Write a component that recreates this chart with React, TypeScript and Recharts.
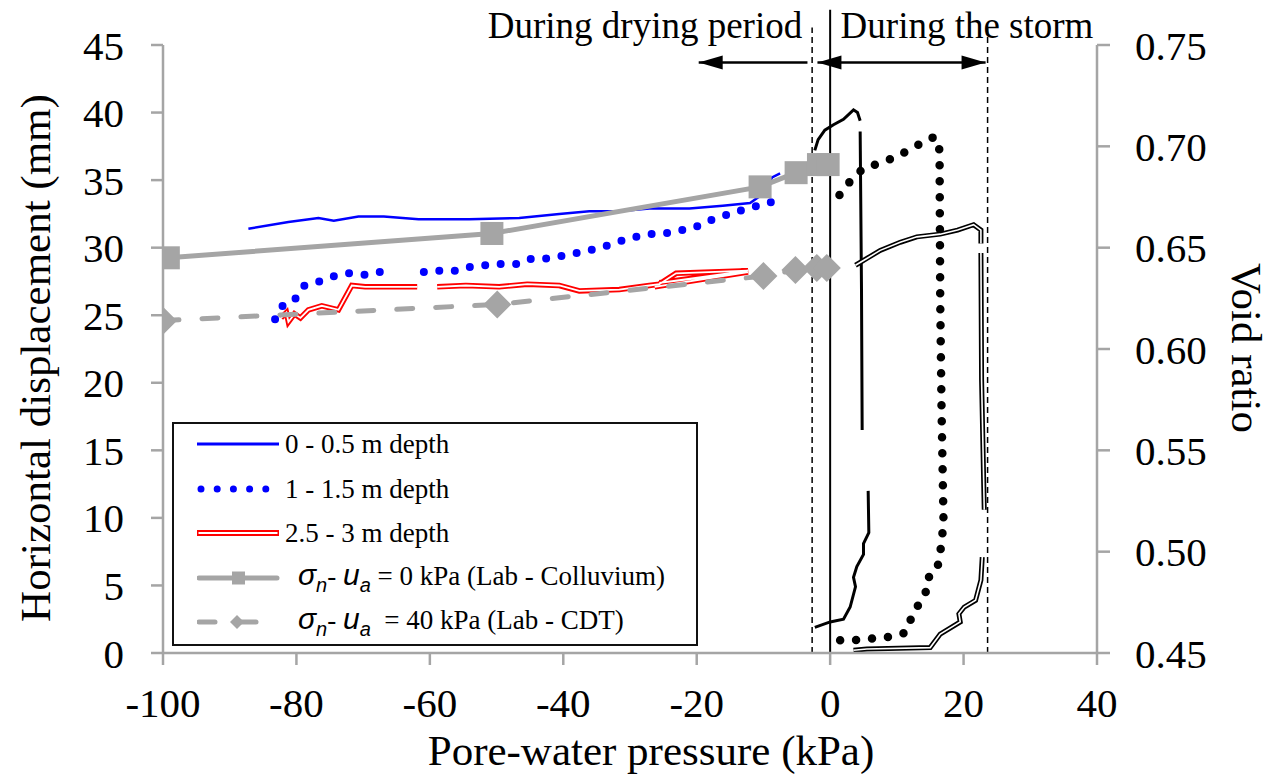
import React from "react";
import { ComposedChart, Line, XAxis, YAxis, ReferenceLine } from "recharts";

// ─── Colours / fonts ───────────────────────────────────────────────────────
const GRAY = "#a5a5a5";
const BLUE = "#0000ff";
const RED = "#ff0000";
const SERIF = "'Liberation Serif', 'Times New Roman', serif";

// ─── Data: [pore-water pressure kPa, horizontal displacement mm] ───────────
// null in y = break in the line
const blueSolid: [number, number | null][] = [
  [-87.2, 31.4], [-81.2, 31.9], [-76.7, 32.2], [-74.4, 32.0], [-70.7, 32.3],
  [-66.9, 32.3], [-61.7, 32.1], [-54.1, 32.1], [-46.6, 32.2], [-40.6, 32.5],
  [-36.1, 32.7], [-31.6, 32.7], [-27.1, 32.9], [-21.1, 32.9], [-16.1, 33.1],
  [-12.0, 33.3], [-10.0, 34.0], [-9.0, 34.9], [-8.7, 35.2], [-7.5, 35.5],
];

const blueDotted: [number, number | null][] = [
  [-83.2, 24.7], [-82.9, 25.2], [-81.7, 25.9], [-80.2, 26.2], [-78.8, 27.2],
  [-76.6, 27.5], [-74.3, 27.9], [-72.1, 28.1], [-69.7, 28.0], [-67.4, 28.2],
  [-64.0, null],
  [-60.9, 28.2], [-58.5, 28.3], [-56.1, 28.3], [-53.8, 28.6], [-51.6, 28.7],
  [-49.2, 28.8], [-46.8, 28.8], [-44.7, 29.2], [-42.3, 29.2], [-40.0, 29.4],
  [-38.0, 29.6], [-36.1, 29.8], [-33.1, 30.2], [-30.1, 30.7], [-27.1, 31.0],
  [-24.1, 31.1], [-20.3, 31.5], [-17.6, 32.1], [-13.1, 32.8], [-8.6, 33.4],
];

const redDouble: [number, number | null][] = [
  [-82.3, 24.8], [-81.5, 25.2], [-81.2, 24.5], [-80.3, 25.1], [-79.4, 24.8],
  [-78.2, 25.4], [-76.2, 25.7], [-73.7, 25.4], [-71.7, 27.2], [-69.7, 27.1],
  [-67.2, 27.1], [-61.9, 27.1],
  [-60.0, null],
  [-58.9, 27.1], [-54.6, 27.2], [-49.6, 27.1], [-45.4, 27.3], [-40.6, 27.2],
  [-37.6, 26.8], [-31.6, 26.9], [-27.1, 27.2], [-25.6, 27.3], [-23.1, 28.1],
  [-12.3, 28.3], [-25.6, 27.4], [-12.3, 28.2], [-26.3, 27.1],
];

// during the storm (black)
const blackSolid: [number, number | null][] = [
  [-2.3, 37.2], [-1.8, 38.0], [-0.8, 38.7], [0.5, 39.1], [2.0, 39.5],
  [3.5, 40.2], [4.1, 40.0], [4.5, 39.4],
  [4.5, null],
  [4.5, 38.6], [4.7, 26.9], [4.8, 16.5],
  [5.2, null],
  [5.7, 12.0], [5.8, 8.9], [5.0, 8.1], [5.0, 7.3], [4.0, 6.4], [3.5, 5.6],
  [3.8, 4.9], [3.0, 3.4], [2.0, 2.5], [0.0, 2.3], [-2.3, 1.9],
];

const blackDotted: [number, number | null][] = [
  [1.4, 33.9], [2.5, 34.6], [3.8, 35.4], [5.5, 36.0], [7.2, 36.2],
  [9.8, 36.7], [12.8, 37.5], [15.0, 38.1], [15.8, 38.2], [16.4, 37.2],
  [16.5, 26.1], [16.7, 18.0], [17.0, 9.6], [16.5, 7.4], [16.0, 6.1],
  [14.5, 5.5], [14.3, 4.4], [12.5, 3.0], [11.3, 1.5], [9.0, 1.2],
  [6.8, 1.1], [4.8, 1.0], [2.3, 0.9], [0.5, 1.0], [-0.3, 0.9],
];

const blackDouble: [number, number | null][] = [
  [3.8, 28.7], [5.5, 29.2], [7.5, 29.8], [10.5, 30.4], [13.0, 30.8],
  [16.5, 31.0], [19.1, 31.3], [21.5, 31.7], [22.6, 31.3], [22.6, 30.3],
  [22.6, null],
  [22.6, 29.6], [22.7, 20.2], [23.1, 10.6],
  [23.0, null],
  [22.8, 7.1], [22.6, 5.4], [21.8, 3.9], [20.1, 3.4], [19.3, 2.9],
  [19.5, 2.3], [16.5, 1.4], [15.0, 0.4], [5.5, 0.3], [3.5, 0.2],
];

// lab tests: [pore-water pressure kPa, void ratio]
const labColluviumX = [-99.2, -50.7, -10.5, -5.1, -1.75, -0.3];
const labColluviumE = [0.645, 0.657, 0.68, 0.687, 0.691, 0.691];
const labCdtX = [-100, -49.9, -10, -5.2, -2, -0.5];
const labCdtE = [0.614, 0.622, 0.636, 0.639, 0.64, 0.64];

const xTicks = [-100, -80, -60, -40, -20, 0, 20, 40];
const yTicks = [0, 5, 10, 15, 20, 25, 30, 35, 40, 45];
const eTicks = [0.45, 0.5, 0.55, 0.6, 0.65, 0.7, 0.75];

const drySplit = -2.7;
const stormEnd = 23.6;

const toPts = (a: [number, number | null][]) => a.map(([x, y]) => ({ x, y }));
const labPts = (xs: number[], es: number[]) => xs.map((x, i) => ({ x, y: es[i] }));

// ─── Markers / shapes ───────────────────────────────────────────────────────
const SquareDot = (p: any) =>
  p.cx == null ? (
    <g key={`sq${p.index}`} />
  ) : (
    <rect key={`sq${p.index}`} x={p.cx - 11.5} y={p.cy - 11.5} width={23} height={23} fill={GRAY} />
  );

const DiamondDot = (p: any) =>
  p.cx == null ? (
    <g key={`dm${p.index}`} />
  ) : (
    <polygon
      key={`dm${p.index}`}
      points={`${p.cx - 14},${p.cy} ${p.cx},${p.cy - 14} ${p.cx + 14},${p.cy} ${p.cx},${p.cy + 14}`}
      fill={GRAY}
    />
  );

function arrowShape(both: boolean) {
  return (p: any) => {
    const { x1, y1, x2, y2 } = p;
    const d = Math.sign(x2 - x1) || 1;
    const L = 24;
    const H = 7;
    const head = (tx: number, ty: number, dir: number) =>
      `${tx},${ty} ${tx - dir * L},${ty - H} ${tx - dir * L},${ty + H}`;
    return (
      <g>
        <line x1={x1} y1={y1} x2={x2} y2={y2} stroke="#000" strokeWidth={2.5} />
        <polygon points={head(x2, y2, d)} fill="#000" />
        {both && <polygon points={head(x1, y1, -d)} fill="#000" />}
      </g>
    );
  };
}

const tickStyle = { fontSize: 41, fill: "#000", fontFamily: SERIF };

// ─── Legend (HTML overlay) ──────────────────────────────────────────────────
function LegendBox() {
  const rowH = 44.5;
  const sym = (i: number) => {
    const y = 10;
    switch (i) {
      case 0:
        return <line x1={0} y1={y} x2={82} y2={y} stroke={BLUE} strokeWidth={3} />;
      case 1:
        return (
          <line x1={4} y1={y} x2={82} y2={y} stroke={BLUE} strokeWidth={7}
            strokeLinecap="round" strokeDasharray="0 16.2" />
        );
      case 2:
        return (
          <g>
            <line x1={0} y1={y} x2={82} y2={y} stroke={RED} strokeWidth={6} />
            <line x1={1.5} y1={y} x2={80.5} y2={y} stroke="#fff" strokeWidth={2} />
          </g>
        );
      case 3:
        return (
          <g>
            <line x1={2} y1={y} x2={80} y2={y} stroke={GRAY} strokeWidth={5} strokeLinecap="round" />
            <rect x={35} y={y - 6.5} width={13} height={13} fill={GRAY} />
          </g>
        );
      default:
        return (
          <g>
            <line x1={2} y1={y} x2={80} y2={y} stroke={GRAY} strokeWidth={5}
              strokeLinecap="round" strokeDasharray="16 25" />
            <polygon points={`${33},${y} ${40},${y - 7} ${47},${y} ${40},${y + 7}`} fill={GRAY} />
          </g>
        );
    }
  };
  const ital: React.CSSProperties = {
    fontFamily: "'Liberation Sans', Arial, sans-serif",
    fontStyle: "italic",
    fontSize: 30,
  };
  const sigma = (gap: string) => (
    <span>
      <span style={ital}>
        σ<sub style={{ fontSize: 20 }}>n</sub>
      </span>
      -{" "}
      <span style={ital}>
        u<sub style={{ fontSize: 20 }}>a</sub>
      </span>
      {gap}
    </span>
  );
  const labels: React.ReactNode[] = [
    "0 - 0.5 m depth",
    "1 - 1.5 m depth",
    "2.5 - 3 m depth",
    <span key="l4">{sigma(" ")}= 0 kPa (Lab - Colluvium)</span>,
    <span key="l5">{sigma("\u00a0 ")}= 40 kPa (Lab - CDT)</span>,
  ];
  return (
    <div
      style={{
        position: "absolute",
        left: 172,
        top: 422,
        width: 522,
        height: 220,
        border: "2px solid #111",
        background: "#fff",
        fontFamily: SERIF,
        fontSize: 27,
        color: "#000",
      }}
    >
      {labels.map((lab, i) => (
        <div key={i} style={{ position: "absolute", left: 0, top: 20 + i * rowH - 16, height: 32, width: 520 }}>
          <svg width={90} height={20} style={{ position: "absolute", left: 23, top: 6 }}>
            {sym(i)}
          </svg>
          <div
            style={{
              position: "absolute",
              left: i < 3 ? 111 : 124,
              top: i < 3 ? 0 : -3,
              height: 32,
              lineHeight: "32px",
              whiteSpace: "nowrap",
            }}
          >
            {lab}
          </div>
        </div>
      ))}
    </div>
  );
}

const textAbs = (cx: number, cy: number, size: number, rot = 0): React.CSSProperties => ({
  position: "absolute",
  left: cx,
  top: cy,
  transform: `translate(-50%, -50%) rotate(${rot}deg)`,
  fontFamily: SERIF,
  fontSize: size,
  lineHeight: 1,
  whiteSpace: "nowrap",
  color: "#000",
});

export default function App() {
  return (
    <div style={{ position: "absolute", left: 0, top: 0, width: 1271, height: 776, background: "#fff" }}>
      <ComposedChart width={1271} height={776} margin={{ top: 45, right: 0, bottom: 0, left: 0 }}>
        <XAxis
          dataKey="x"
          type="number"
          domain={[-100, 40]}
          ticks={xTicks}
          allowDataOverflow
          tick={tickStyle}
          tickSize={12}
          tickMargin={23}
          height={123}
          axisLine={{ stroke: GRAY, strokeWidth: 2.5 }}
          tickLine={{ stroke: GRAY, strokeWidth: 2.5 }}
        />
        <YAxis
          yAxisId="left"
          orientation="left"
          type="number"
          domain={[0, 45]}
          ticks={yTicks}
          width={163}
          tick={tickStyle}
          tickSize={12}
          tickMargin={27}
          axisLine={{ stroke: GRAY, strokeWidth: 2.5 }}
          tickLine={{ stroke: GRAY, strokeWidth: 2.5 }}
        />
        <YAxis
          yAxisId="right"
          orientation="right"
          type="number"
          domain={[0.45, 0.75]}
          ticks={eTicks}
          width={174}
          tick={tickStyle}
          tickSize={13}
          tickMargin={25}
          tickFormatter={(v: number) => v.toFixed(2)}
          axisLine={{ stroke: GRAY, strokeWidth: 2.5 }}
          tickLine={{ stroke: GRAY, strokeWidth: 2.5 }}
        />

        {/* period markers */}
        <ReferenceLine yAxisId="left" ifOverflow="visible" stroke="#000" strokeWidth={2}
          segment={[{ x: 0, y: 0 }, { x: 0, y: 47.6 }]} />
        <ReferenceLine yAxisId="left" ifOverflow="visible" stroke="#000" strokeWidth={1.5} strokeDasharray="6 4"
          segment={[{ x: drySplit, y: 0 }, { x: drySplit, y: 46.3 }]} />
        <ReferenceLine yAxisId="left" ifOverflow="visible" stroke="#000" strokeWidth={1.5} strokeDasharray="6 4"
          segment={[{ x: stormEnd, y: 0 }, { x: stormEnd, y: 46.3 }]} />
        <ReferenceLine yAxisId="left" ifOverflow="visible" shape={arrowShape(false)}
          segment={[{ x: -3.4, y: 43.7 }, { x: -19.7, y: 43.7 }]} />
        <ReferenceLine yAxisId="left" ifOverflow="visible" shape={arrowShape(true)}
          segment={[{ x: -1.9, y: 43.7 }, { x: 23.3, y: 43.7 }]} />

        {/* field data */}
        <Line yAxisId="left" data={toPts(blueSolid)} dataKey="y" stroke={BLUE} strokeWidth={2.5}
          dot={false} isAnimationActive={false} legendType="none" />
        <Line yAxisId="left" data={toPts(blueDotted)} dataKey="y" stroke={BLUE} strokeWidth={8}
          strokeLinecap="round" strokeDasharray="0 15.5" dot={false} isAnimationActive={false} legendType="none" />
        <Line yAxisId="left" data={toPts(redDouble)} dataKey="y" stroke={RED} strokeWidth={5.5}
          dot={false} isAnimationActive={false} legendType="none" />
        <Line yAxisId="left" data={toPts(redDouble)} dataKey="y" stroke="#fff" strokeWidth={1.8}
          dot={false} isAnimationActive={false} legendType="none" />
        <Line yAxisId="left" data={toPts(blackSolid)} dataKey="y" stroke="#000" strokeWidth={3}
          dot={false} isAnimationActive={false} legendType="none" />
        <Line yAxisId="left" data={toPts(blackDotted)} dataKey="y" stroke="#000" strokeWidth={8.5}
          strokeLinecap="round" strokeDasharray="0 16" dot={false} isAnimationActive={false} legendType="none" />
        <Line yAxisId="left" data={toPts(blackDouble)} dataKey="y" stroke="#000" strokeWidth={5}
          dot={false} isAnimationActive={false} legendType="none" />
        <Line yAxisId="left" data={toPts(blackDouble)} dataKey="y" stroke="#fff" strokeWidth={1.6}
          dot={false} isAnimationActive={false} legendType="none" />

        {/* lab data (void ratio) */}
        <Line yAxisId="right" data={labPts(labColluviumX, labColluviumE)} dataKey="y" stroke={GRAY}
          strokeWidth={5} dot={SquareDot} isAnimationActive={false} legendType="none" />
        <Line yAxisId="right" data={labPts(labCdtX, labCdtE)} dataKey="y" stroke={GRAY}
          strokeWidth={5} strokeLinecap="round" strokeDasharray="16 23" dot={DiamondDot}
          isAnimationActive={false} legendType="none" />
      </ComposedChart>

      <LegendBox />

      <div style={textAbs(35, 358, 43, -90)}>Horizontal displacement (mm)</div>
      <div style={textAbs(1246, 348, 43, 90)}>Void ratio</div>
      <div style={textAbs(651, 750, 43)}>Pore-water pressure (kPa)</div>
      <div style={textAbs(645, 25, 37)}>During drying period</div>
      <div style={textAbs(967, 25, 37)}>During the storm</div>
    </div>
  );
}
